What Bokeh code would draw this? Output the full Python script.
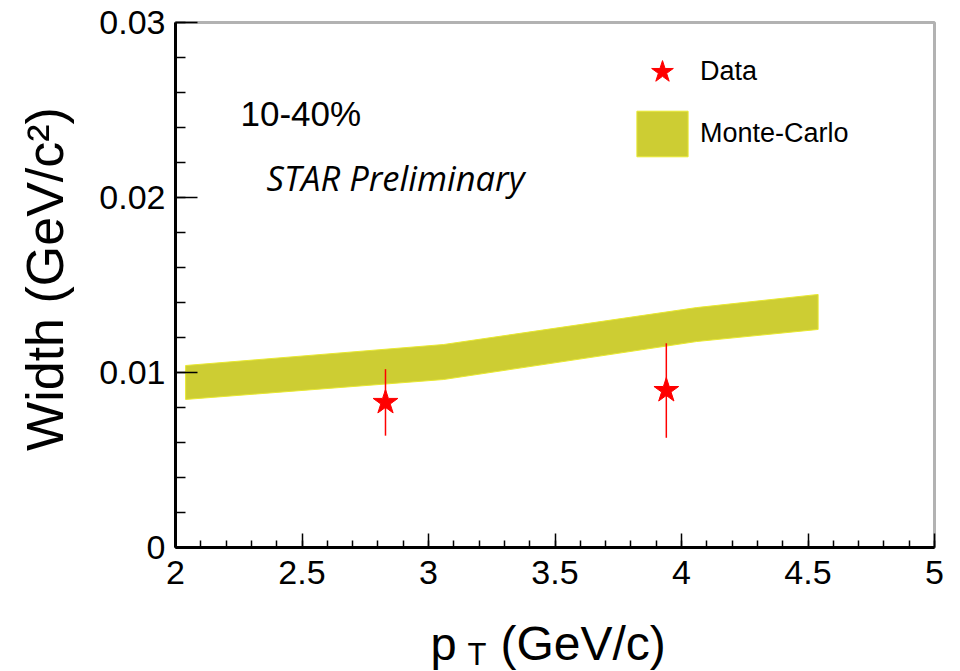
import math
from bokeh.plotting import figure
from bokeh.models import Range1d, FixedTicker, Label, Legend, LegendItem, BoxAnnotation
from bokeh.embed import file_html
from bokeh.resources import INLINE

# ---- data ----
band_pt = [2.04, 3.06, 4.06, 4.54]
band_hi = [0.01040, 0.01160, 0.01371, 0.01446]
band_lo = [0.00846, 0.00960, 0.01177, 0.01246]

data_pt = [2.83, 3.94]
data_w = [0.00829, 0.00897]
data_err = [0.0019, 0.0027]

x_min, x_max = 2, 5
y_min, y_max = 0, 0.03
x_ticks = [2, 2.5, 3, 3.5, 4, 4.5, 5]
x_tick_labels = ["2", "2.5", "3", "3.5", "4", "4.5", "5"]
x_minor = [2 + 0.1 * i for i in range(31)]
y_ticks = [0, 0.01, 0.02, 0.03]
y_tick_labels = ["0", "0.01", "0.02", "0.03"]
y_minor = [0.002 * i for i in range(16)]

FONT = "Liberation Sans"
# ---- layout (pixels) ----
W, H = 952, 671
LEFT, RIGHT, TOP, BOTTOM = 175, 934, 22, 547   # where the axes box sits
sx = (RIGHT - LEFT) / (x_max - x_min)
sy = (BOTTOM - TOP) / (y_max - y_min)
x_rng = Range1d(x_min - LEFT / sx, x_max + (W - RIGHT) / sx)
y_rng = Range1d(y_min - (H - BOTTOM) / sy, y_max + TOP / sy)

p = figure(width=W, height=H, output_backend="svg", toolbar_location=None,
           x_range=x_rng, y_range=y_rng,
           min_border_left=0, min_border_top=0, min_border_right=0, min_border_bottom=0)
p.grid.visible = False
p.outline_line_color = None
p.background_fill_color = "white"
p.border_fill_color = "white"

# frame box around the data region
p.add_layout(BoxAnnotation(left=x_min, right=x_max, bottom=y_min, top=y_max,
                           fill_alpha=0, line_color="black", line_width=3))

# x axis drawn at y = 0
xa = p.xaxis[0]
xa.fixed_location = y_min
xa.bounds = (x_min, x_max)
xa.ticker = FixedTicker(ticks=x_ticks, minor_ticks=x_minor)
xa.major_label_overrides = {t: l for t, l in zip(x_ticks, x_tick_labels)}
xa.major_tick_in = 14
xa.major_tick_out = 0
xa.minor_tick_in = 7
xa.minor_tick_out = 0
xa.axis_line_width = 3
xa.major_tick_line_width = 1.5
xa.minor_tick_line_width = 1.5
xa.major_label_text_font = FONT
xa.major_label_text_font_size = "34px"
xa.major_label_text_color = "black"
xa.major_label_standoff = 13

# y axis drawn at x = 2
ya = p.yaxis[0]
ya.fixed_location = x_min
ya.bounds = (y_min, y_max)
ya.ticker = FixedTicker(ticks=y_ticks, minor_ticks=y_minor)
ya.major_label_overrides = {t: l for t, l in zip(y_ticks, y_tick_labels)}
ya.major_tick_in = 22
ya.major_tick_out = 0
ya.minor_tick_in = 10
ya.minor_tick_out = 0
ya.axis_line_width = 3
ya.major_tick_line_width = 1.5
ya.minor_tick_line_width = 1.5
ya.major_label_text_font = FONT
ya.major_label_text_font_size = "34px"
ya.major_label_text_color = "black"
ya.major_label_standoff = 10

# Monte-Carlo band
band_x = band_pt + band_pt[::-1]
band_y = band_hi + band_lo[::-1]
band_r = p.patch(band_x, band_y, fill_color="#cdcd33", line_color="#e8e830", line_width=1)

# data points with errors
p.segment(x0=data_pt, y0=[w - e for w, e in zip(data_w, data_err)],
          x1=data_pt, y1=[w + e for w, e in zip(data_w, data_err)],
          line_color="red", line_width=1.5)
star_r = p.scatter(data_pt, data_w, marker="star", size=26, fill_color="red", line_color="red")

legend = Legend(items=[LegendItem(label="Data", renderers=[star_r]),
                       LegendItem(label="Monte-Carlo", renderers=[band_r])],
                location=(630, H - 162), glyph_width=64, glyph_height=57,
                label_standoff=6, spacing=5, padding=0, margin=0,
                border_line_color=None, background_fill_alpha=0,
                label_text_font=FONT, label_text_font_size="27px",
                label_text_color="black")
p.add_layout(legend)

def txt(x, y_top, text, size, font=FONT, style="normal", angle=0, align="left"):
    """Label placed with x from the left edge and baseline y from the top edge (pixels)."""
    p.add_layout(Label(x=x, y=H - y_top, x_units="screen", y_units="screen", text=text,
                       text_font=font, text_font_style=style, text_font_size=size,
                       text_color="black", text_baseline="alphabetic",
                       text_align=align, angle=angle))

txt(240, 113, "10-40%", "35px")
txt(266, 177, "STAR Preliminary", "34.5px", font="Open Sans", style="italic")

# y-axis title (rotated)
txt(44, (TOP + BOTTOM) / 2 - 6, "Width (GeV/c\u00b2)", "52px", angle=math.pi / 2, align="center")

# x-axis title (p with subscript T)
txt(430, 643, "p", "47px")
txt(467, 654, "T", "31px")
txt(500, 643, "(GeV/c)", "48px")

open("out.html", "w").write(file_html(p, INLINE))
